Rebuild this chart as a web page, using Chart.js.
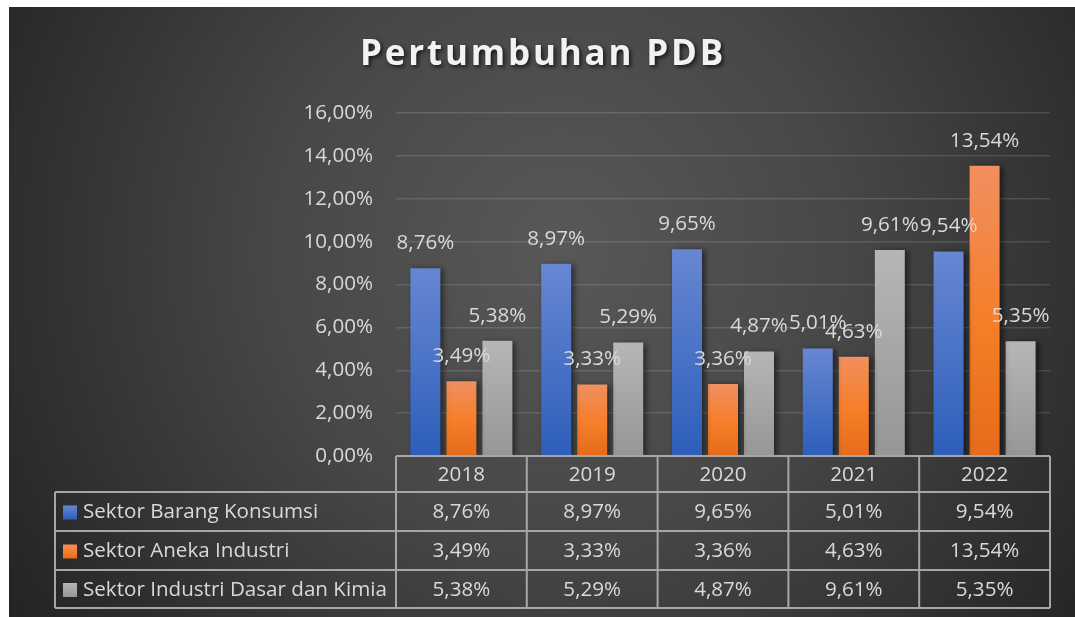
<!DOCTYPE html>
<html>
<head>
<meta charset="utf-8">
<script src="https://cdn.jsdelivr.net/npm/chart.js@4"></script>
<style>
  html, body { margin: 0; padding: 0; background: #fff; }
  #wrap { width: 1075px; height: 617px; }
</style>
</head>
<body>
<div id="wrap"><canvas id="pdbChart" width="1075" height="617"></canvas></div>
<script>
// data
var years = ['2018', '2019', '2020', '2021', '2022'];
var seriesNames = ['Sektor Barang Konsumsi', 'Sektor Aneka Industri', 'Sektor Industri Dasar dan Kimia'];
var barangKonsumsi = [8.76, 8.97, 9.65, 5.01, 9.54];
var anekaIndustri = [3.49, 3.33, 3.36, 4.63, 13.54];
var dasarKimia = [5.38, 5.29, 4.87, 9.61, 5.35];
var yTicks = [0, 2, 4, 6, 8, 10, 12, 14, 16];

var FONT = '"Open Sans", "Noto Sans", sans-serif';
var FSIZE = 20.6;
var TEXT = '#d9d9d9';
var LINE = '#a6a6a6';

// top / bottom colours for each series gradient
var gradStops = [
  ['#6787d2', '#2d5eba'],
  ['#f18f60', '#f57e28', '#e56c1a'],
  ['#b6b6b6', '#969696']
];

function pct(v) {
  return v.toFixed(2).replace('.', ',') + '%';
}

function makeGrad(ctx, top, bottom, stops) {
  var g = ctx.createLinearGradient(0, top, 0, bottom);
  if (stops.length === 3) {
    g.addColorStop(0, stops[0]);
    g.addColorStop(0.55, stops[1]);
    g.addColorStop(1, stops[2]);
  } else {
    g.addColorStop(0, stops[0]);
    g.addColorStop(1, stops[1]);
  }
  return g;
}

function barColor(idx) {
  return function(context) {
    var chart = context.chart;
    var area = chart.chartArea;
    if (!area || context.raw === undefined) return gradStops[idx][0];
    var top = chart.scales.y.getPixelForValue(context.raw);
    return makeGrad(chart.ctx, top, area.bottom, gradStops[idx]);
  };
}

var backgroundPlugin = {
  id: 'bg',
  beforeDraw: function(chart) {
    var ctx = chart.ctx;
    ctx.save();
    var g = ctx.createRadialGradient(560, 250, 0, 560, 250, 640);
    g.addColorStop(0, '#585858');
    g.addColorStop(0.45, '#474747');
    g.addColorStop(1, '#252525');
    ctx.fillStyle = g;
    ctx.fillRect(9, 7, chart.width - 9, chart.height - 7);

    // title
    ctx.font = 'bold 35px ' + FONT;
    ctx.letterSpacing = '2.8px';
    ctx.fillStyle = '#f2f2f2';
    ctx.textAlign = 'center';
    ctx.textBaseline = 'middle';
    ctx.shadowColor = 'rgba(0,0,0,0.7)';
    ctx.shadowBlur = 4;
    ctx.shadowOffsetX = 2;
    ctx.shadowOffsetY = 2;
    ctx.fillText('Pertumbuhan PDB', 543, 55);
    ctx.restore();
  },
  beforeDatasetsDraw: function(chart) {
    var ctx = chart.ctx;
    ctx.save();
    ctx.shadowColor = 'rgba(0,0,0,0.55)';
    ctx.shadowBlur = 6;
    ctx.shadowOffsetX = 3;
    ctx.shadowOffsetY = 1;
  },
  afterDatasetsDraw: function(chart) {
    var ctx = chart.ctx;
    ctx.restore();

    // value labels above bars
    ctx.save();
    ctx.font = FSIZE + 'px ' + FONT;
    ctx.fillStyle = TEXT;
    ctx.textAlign = 'center';
    ctx.textBaseline = 'middle';
    chart.data.datasets.forEach(function(ds, i) {
      chart.getDatasetMeta(i).data.forEach(function(bar, j) {
        ctx.fillText(pct(ds.data[j]), bar.x, bar.y - 25);
      });
    });
    ctx.restore();
  },
  afterDraw: function(chart) {
    // data table under the plot
    var ctx = chart.ctx;
    var xs = chart.scales.x;
    var area = chart.chartArea;
    var colW = area.width / years.length;
    var left = 55;
    var headTop = area.bottom;
    var rowTops = [492, 531, 570, 608];

    ctx.save();
    ctx.strokeStyle = LINE;
    ctx.lineWidth = 2;
    ctx.beginPath();
    // header row
    ctx.moveTo(area.left, headTop); ctx.lineTo(area.right, headTop);
    // body rows
    rowTops.forEach(function(y) {
      ctx.moveTo(left, y); ctx.lineTo(area.right, y);
    });
    // verticals
    ctx.moveTo(left, rowTops[0]); ctx.lineTo(left, rowTops[3]);
    for (var k = 0; k <= years.length; k++) {
      var x = area.left + k * colW;
      ctx.moveTo(x, headTop); ctx.lineTo(x, rowTops[3]);
    }
    ctx.stroke();

    ctx.font = FSIZE + 'px ' + FONT;
    ctx.fillStyle = TEXT;
    ctx.textAlign = 'center';
    ctx.textBaseline = 'middle';
    years.forEach(function(yr, j) {
      ctx.fillText(yr, xs.getPixelForTick(j), (headTop + rowTops[0]) / 2 + 1);
    });

    chart.data.datasets.forEach(function(ds, i) {
      var cy = (rowTops[i] + rowTops[i + 1]) / 2 + 1;
      ds.data.forEach(function(v, j) {
        ctx.textAlign = 'center';
        ctx.fillText(pct(v), xs.getPixelForTick(j), cy);
      });
      // legend key + name
      ctx.fillStyle = makeGrad(ctx, cy - 7, cy + 7, gradStops[i]);
      ctx.fillRect(63, cy - 7, 14, 14);
      ctx.fillStyle = TEXT;
      ctx.textAlign = 'left';
      ctx.fillText(ds.label, 83, cy);
    });
    ctx.restore();
  }
};

var ctx = document.getElementById('pdbChart');
new Chart(ctx, {
  type: 'bar',
  data: {
    labels: years,
    datasets: [
      { label: seriesNames[0], data: barangKonsumsi, backgroundColor: barColor(0) },
      { label: seriesNames[1], data: anekaIndustri, backgroundColor: barColor(1) },
      { label: seriesNames[2], data: dasarKimia, backgroundColor: barColor(2) }
    ]
  },
  options: {
    responsive: false,
    animation: false,
    devicePixelRatio: 1,
    layout: {
      padding: { left: 0, right: 25, top: 113, bottom: 161 }
    },
    datasets: {
      bar: { categoryPercentage: 0.826, barPercentage: 0.833 }
    },
    plugins: {
      legend: { display: false },
      title: { display: false },
      tooltip: { enabled: false }
    },
    scales: {
      x: { display: false },
      y: {
        min: yTicks[0],
        max: yTicks[yTicks.length - 1],
        afterBuildTicks: function(scale) {
          scale.ticks = yTicks.map(function(v) { return { value: v }; });
        },
        afterFit: function(scale) { scale.width = 396; },
        border: { display: false },
        grid: { color: 'rgba(255,255,255,0.13)', lineWidth: 1.5, drawTicks: false },
        ticks: {
          padding: 23,
          color: TEXT,
          font: { family: FONT, size: FSIZE },
          callback: function(v) { return pct(v); }
        }
      }
    }
  },
  plugins: [backgroundPlugin]
});
</script>
</body>
</html>
